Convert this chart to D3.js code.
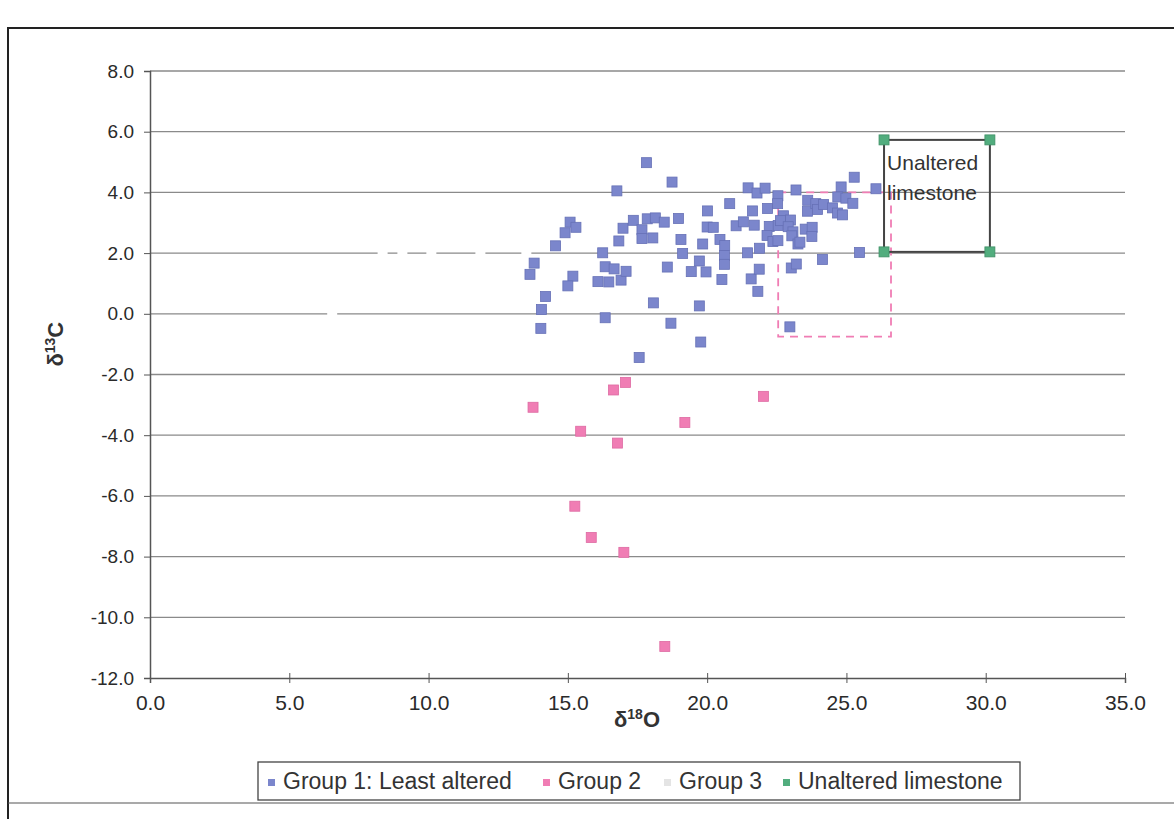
<!DOCTYPE html>
<html>
<head>
<meta charset="utf-8">
<script src="https://cdn.jsdelivr.net/npm/d3@7"></script>
<style>
  body { margin: 0; background: #fff; }
  svg { display: block; font-family: "Liberation Sans", Arial, sans-serif; }
</style>
</head>
<body>
<svg width="1174" height="819"></svg>
<script>
// delta18O, delta13C pairs
const group1 = [
  [13.64, 1.30], [13.79, 1.67], [14.05, 0.14], [14.20, 0.57], [14.03, -0.48],
  [14.56, 2.24], [14.90, 2.67], [15.08, 3.02], [15.29, 2.85], [15.18, 1.24],
  [15.00, 0.92], [16.08, 1.06], [16.47, 1.05], [16.91, 1.11], [16.25, 2.01],
  [16.34, 1.55], [16.66, 1.48], [17.09, 1.40], [16.34, -0.13], [16.76, 4.05],
  [16.83, 2.40], [16.98, 2.82], [17.35, 3.08], [17.82, 4.98], [17.66, 2.77],
  [17.66, 2.48], [17.85, 3.13], [18.14, 3.16], [18.05, 2.50], [18.07, 0.36],
  [17.56, -1.44], [18.46, 3.02], [18.74, 4.34], [18.57, 1.54], [18.70, -0.31],
  [18.97, 3.14], [19.06, 2.45], [19.12, 1.99], [19.43, 1.39], [19.72, 1.74],
  [19.96, 1.38], [19.72, 0.26], [19.77, -0.93], [20.01, 3.39], [20.00, 2.86],
  [20.22, 2.85], [19.84, 2.30], [20.46, 2.45], [20.63, 2.25], [20.62, 1.92],
  [20.62, 1.63], [20.53, 1.13], [20.81, 3.63], [21.04, 2.90], [21.30, 3.03],
  [21.47, 4.15], [21.79, 3.98], [22.08, 4.14], [21.63, 3.39], [21.69, 2.92],
  [21.45, 2.01], [21.88, 2.16], [21.58, 1.15], [21.87, 1.47], [21.82, 0.74],
  [22.17, 3.47], [22.23, 2.88], [22.15, 2.58], [22.36, 2.38], [22.54, 3.89],
  [22.53, 3.63], [22.55, 2.91], [22.54, 2.41], [22.74, 3.23], [22.63, 3.07],
  [22.99, 3.09], [22.91, 2.87], [23.08, 2.70], [23.04, 2.57], [23.26, 2.30],
  [23.19, 4.08], [23.02, 1.51], [23.20, 1.64], [22.97, -0.43], [23.33, 2.36],
  [23.52, 2.79], [23.61, 3.74], [23.60, 3.38], [23.77, 2.85], [23.76, 2.55],
  [23.90, 3.63], [23.96, 3.44], [24.18, 3.60], [24.14, 1.79], [24.50, 3.49],
  [24.68, 3.32], [24.86, 3.26], [24.81, 4.18], [24.69, 3.85], [24.98, 3.81],
  [25.23, 3.64], [25.28, 4.50], [25.47, 2.02], [26.06, 4.12]
];
const group2 = [
  [16.64, -2.51], [17.07, -2.26], [13.75, -3.08], [22.02, -2.72], [19.20, -3.58],
  [15.46, -3.87], [16.78, -4.26], [15.25, -6.34], [15.84, -7.37], [17.01, -7.86],
  [18.48, -10.96]
];
const group3 = [
  [8.35, 2.04], [9.06, 2.03], [10.10, 2.04], [11.86, 2.03], [13.51, 2.03],
  [6.54, 0.0], [2.44, 3.05], [4.63, 4.39], [12.56, 2.78], [13.25, -1.52]
];
const limestone = [[26.35, 5.73], [30.15, 5.73], [26.35, 2.04], [30.15, 2.04]];
const group2BoxX = [22.55, 26.6];
const group2BoxY = [-0.75, 4.0];

const xTicks = [0, 5, 10, 15, 20, 25, 30, 35];
const yTicks = [-12, -10, -8, -6, -4, -2, 0, 2, 4, 6, 8];
const legendItems = ["Group 1: Least altered", "Group 2", "Group 3", "Unaltered limestone"];

const colors = {
  g1: "#7b86cc", g1s: "#6671b6",
  g2: "#f07db4", g2s: "#de6aa2",
  g3: "#ffffff",
  ls: "#52ad7e", lss: "#3f8f66",
  grid: "#8a8a8a", axis: "#555"
};

const fmt = d => d3.format(".1f")(d).replace("\u2212", "-");

const svg = d3.select("svg");
const x = d3.scaleLinear().domain([0, 35]).range([150, 1125]);
const y = d3.scaleLinear().domain([-12, 8]).range([678, 71]);

// outer frame of the figure
svg.append("path")
  .attr("d", "M8,819 L8,28 L1174,28")
  .attr("fill", "none").attr("stroke", "#222").attr("stroke-width", 2);
svg.append("line")
  .attr("x1", 8).attr("x2", 1174).attr("y1", 803).attr("y2", 803)
  .attr("stroke", "#555").attr("stroke-width", 1.2);

// horizontal grid
svg.append("g").selectAll("line")
  .data(yTicks.filter(d => d !== -12))
  .join("line")
  .attr("x1", x(0)).attr("x2", x(35))
  .attr("y1", d => y(d)).attr("y2", d => y(d))
  .attr("stroke", colors.grid).attr("stroke-width", 1.3);

// axes
const yAxis = svg.append("g")
  .attr("transform", `translate(${x(0)},0)`)
  .call(d3.axisLeft(y).tickValues(yTicks).tickFormat(fmt).tickSize(6).tickPadding(10));
const xAxis = svg.append("g")
  .attr("transform", `translate(0,${y(-12)})`)
  .call(d3.axisBottom(x).tickValues(xTicks).tickFormat(fmt).tickSize(5).tickPadding(12));
[xAxis, yAxis].forEach(a => {
  a.select(".domain").attr("stroke", colors.axis).attr("stroke-width", 1.5);
  a.selectAll(".tick line").attr("stroke", colors.axis);
  a.selectAll("text").attr("fill", "#2a2a2a")
    .attr("font-family", "'Liberation Sans', Arial, sans-serif");
});
yAxis.selectAll("text").attr("font-size", 19);
xAxis.selectAll("text").attr("font-size", 21);
xAxis.selectAll(".tick line").attr("y1", -5);

// axis titles
const yt = svg.append("text")
  .attr("transform", `translate(63,${y(-1)}) rotate(-90)`)
  .attr("text-anchor", "middle").attr("font-size", 22).attr("font-weight", "bold").attr("fill", "#333");
yt.append("tspan").text("δ");
yt.append("tspan").attr("font-size", 14).attr("dy", -8).text("13");
yt.append("tspan").attr("dy", 8).text("C");
const xt = svg.append("text")
  .attr("x", 637).attr("y", 727)
  .attr("text-anchor", "middle").attr("font-size", 22).attr("font-weight", "bold").attr("fill", "#333");
xt.append("tspan").text("δ");
xt.append("tspan").attr("font-size", 14).attr("dy", -8).text("18");
xt.append("tspan").attr("dy", 8).text("O");

// group 2 envelope (dashed pink)
svg.append("rect")
  .attr("x", x(group2BoxX[0])).attr("y", y(group2BoxY[1]))
  .attr("width", x(group2BoxX[1]) - x(group2BoxX[0]))
  .attr("height", y(group2BoxY[0]) - y(group2BoxY[1]))
  .attr("fill", "none").attr("stroke", colors.g2).attr("stroke-width", 1.8)
  .attr("stroke-dasharray", "8,6");

// unaltered limestone box
const lx = d3.extent(limestone, d => d[0]);
const ly = d3.extent(limestone, d => d[1]);
svg.append("rect")
  .attr("x", x(lx[0])).attr("y", y(ly[1]))
  .attr("width", x(lx[1]) - x(lx[0])).attr("height", y(ly[0]) - y(ly[1]))
  .attr("fill", "none").attr("stroke", "#444").attr("stroke-width", 2);
svg.append("text")
  .attr("x", x(lx[0]) + 3).attr("y", y(ly[1]) + 30)
  .attr("font-size", 21).attr("fill", "#333")
  .selectAll("tspan").data(["Unaltered", "limestone"]).join("tspan")
  .attr("x", x(lx[0]) + 3).attr("dy", (d, i) => i ? 30 : 0).text(d => d);

const s = 10;
function squares(data, fill, stroke) {
  svg.append("g").selectAll("rect")
    .data(data)
    .join("rect")
    .attr("x", d => x(d[0]) - s / 2)
    .attr("y", d => y(d[1]) - s / 2)
    .attr("width", s).attr("height", s)
    .attr("fill", fill)
    .attr("stroke", stroke).attr("stroke-width", stroke === "none" ? 0 : 0.8);
}
squares(group3, colors.g3, "none");
squares(group1, colors.g1, colors.g1s);
squares(group2, colors.g2, colors.g2s);
squares(limestone, colors.ls, colors.lss);

// legend
const lg = svg.append("g");
lg.append("rect")
  .attr("x", 258).attr("y", 762).attr("width", 762).attr("height", 38)
  .attr("fill", "#fff").attr("stroke", "#444").attr("stroke-width", 1.3);
const legendX = [268, 543, 664, 783];
const legendFill = [colors.g1, colors.g2, "#e4e4e4", colors.ls];
legendItems.forEach((t, i) => {
  lg.append("rect")
    .attr("x", legendX[i]).attr("y", 779).attr("width", 7).attr("height", 7)
    .attr("fill", legendFill[i]);
  lg.append("text")
    .attr("x", legendX[i] + 15).attr("y", 789)
    .attr("font-size", 23).attr("fill", "#333").text(t);
});
</script>
</body>
</html>
